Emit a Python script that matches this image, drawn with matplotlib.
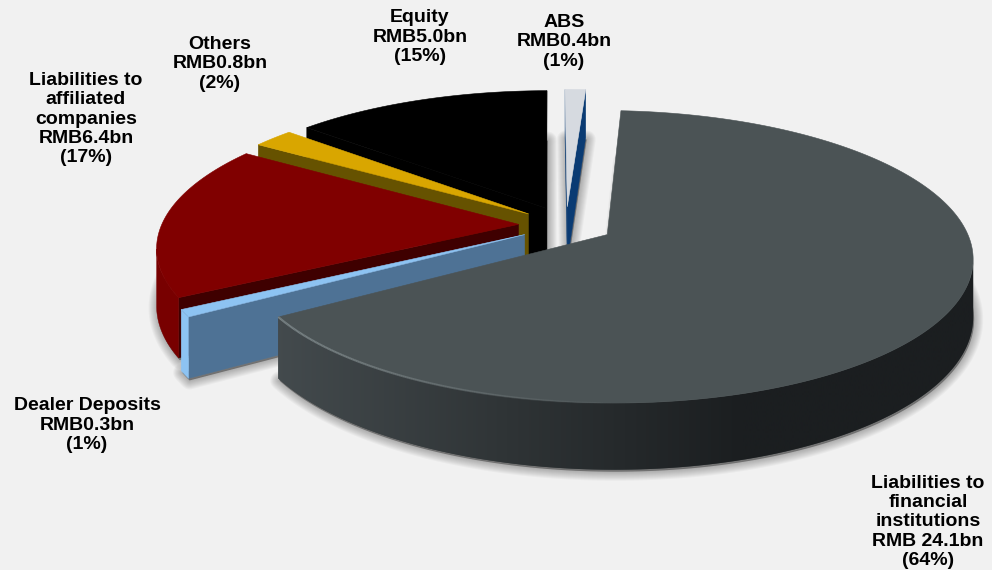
import numpy as np
import matplotlib
matplotlib.use("Agg")
import matplotlib.pyplot as plt
from matplotlib.patches import Polygon
from matplotlib.collections import LineCollection
from matplotlib.colors import LinearSegmentedColormap

# Funding structure, RMB bn, clockwise from the top
categories = ["Liabilities to\nfinancial\ninstitutions", "Dealer Deposits",
              "Liabilities to\naffiliated\ncompanies", "Others", "Equity", "ABS"]
amounts = [24.1, 0.3, 6.4, 0.8, 5.0, 0.4]
amount_text = ["RMB 24.1bn", "RMB0.3bn", "RMB6.4bn", "RMB0.8bn", "RMB5.0bn", "RMB0.4bn"]
percents = [64, 1, 17, 2, 15, 1]

top_colors = ["#4b5355", "#8dc3f2", "#800000", "#d9a600", "#000000", "#d6dae0"]
cut_colors = ["#3c4244", "#4e7295", "#3f0000", "#665200", "#000000", "#0a3b73"]
rim_colors = ["#3c4244", "#8dc3f2", "#780000", "#665200", "#000000", "#d6dae0"]

label_pos = [(928, 522), (87, 425), (86, 119), (220, 64), (420, 37), (564, 42)]

# Pie geometry in figure pixels
CX, CY = 566.0, 225.0
RX, RY = 357.0, 140.0
PERSP = 0.15
DEPTH = 56.0
EXPLODE = 0.133
START_DEG = 3.5


def project(x, y, z=0.0):
    s = 1.0 / (1.0 - PERSP * y)
    return CX + RX * x * s, CY + RY * y * s + DEPTH * z * s


def slice_outline(t0, t1):
    mid = np.radians((t0 + t1) / 2)
    ox, oy = EXPLODE * np.sin(mid), -EXPLODE * np.cos(mid)
    th = np.radians(np.linspace(t0, t1, max(int(t1 - t0) * 3, 12)))
    return ox, oy, ox + np.sin(th), oy - np.cos(th)


def pts(x, y, z=0.0):
    return np.column_stack(project(np.asarray(x), np.asarray(y), z))


def faces_viewer(quad):
    x, y = quad[:, 0], quad[:, 1]
    return np.sum(x * np.roll(y, -1) - np.roll(x, -1) * y) < 0


fig = plt.figure(figsize=(9.92, 5.70), dpi=100, facecolor="#f1f1f1")
ax = fig.add_axes([0, 0, 1, 1])
ax.axis("off")

fractions = np.array(amounts) / sum(amounts)
edges = START_DEG + np.concatenate([[0], np.cumsum(fractions)]) * 360
order = [5, 4, 3, 2, 1, 0]

# Soft shadows cast by the underside of each slice
for i in order:
    ox, oy, rx_, ry_ = slice_outline(edges[i], edges[i + 1])
    base = pts(np.r_[ox, rx_], np.r_[oy, ry_], 1.0) + np.array([1.0, 2.0])
    ax.add_patch(Polygon(base, closed=True, facecolor="#9a9a9a", edgecolor="none", zorder=1))
    for lw in np.linspace(13, 1.5, 9):
        ax.add_patch(Polygon(base, closed=True, fill=False, edgecolor="black", lw=lw,
                             alpha=0.03, joinstyle="round", zorder=1))

rim_shade = LinearSegmentedColormap.from_list("rim", ["#444b4e", "#2f3436", "#1b1e20", "#1b1e20"])

for rank, i in enumerate(order):
    z = 10 + rank * 5
    ox, oy, rx_, ry_ = slice_outline(edges[i], edges[i + 1])
    up = pts(rx_, ry_, 0.0)
    dn = pts(rx_, ry_, 1.0)

    # Radial cut faces, walked in outline order so only the visible ones are filled
    apex_up, apex_dn = pts([ox], [oy], 0.0)[0], pts([ox], [oy], 1.0)[0]
    for a_up, a_dn, b_up, b_dn in ((apex_up, apex_dn, up[0], dn[0]), (up[-1], dn[-1], apex_up, apex_dn)):
        face = np.vstack([a_up, b_up, b_dn, a_dn])
        if faces_viewer(face):
            ax.add_patch(Polygon(face, closed=True, facecolor=cut_colors[i],
                                 edgecolor=cut_colors[i], lw=0.3, zorder=z))

    # Outer rim: only the stretch turned towards the viewer
    keep = np.array([faces_viewer(np.vstack([up[j], up[j + 1], dn[j + 1], dn[j]])) for j in range(len(up) - 1)])
    if keep.any():
        idx = np.flatnonzero(keep)
        j0, j1 = idx[0], idx[-1] + 1
        rim = np.vstack([up[j0:j1 + 1], dn[j0:j1 + 1][::-1]])
        patch = Polygon(rim, closed=True, zorder=z + 1, facecolor=rim_colors[i], edgecolor="none" if i == 0 else rim_colors[i], lw=0.3)
        ax.add_patch(patch)
        if i == 0:
            # The large slice shades from left to right
            im = ax.imshow(np.linspace(0, 1, 256)[None, :], cmap=rim_shade, aspect="auto",
                           extent=(270, 980, 570, 0), zorder=z + 1.5, interpolation="bilinear")
            im.set_clip_path(patch)

    # Top surface
    top = pts(np.r_[ox, rx_], np.r_[oy, ry_], 0.0)
    ax.add_patch(Polygon(top, closed=True, facecolor=top_colors[i], edgecolor=top_colors[i],
                         lw=0.4, zorder=z + 2))

    # Lit front edge of the large slice, fading towards the right
    if i == 0:
        segs = [up[j:j + 2] for j in range(len(up) - 1)]
        fade = np.clip((up[:-1, 0] - 290) / 330, 0, 1)
        lc = [(0.50, 0.54, 0.55, 0.85 * (1 - v)) for v in fade]
        ax.add_collection(LineCollection(segs, colors=lc, linewidths=1.5, zorder=z + 3))

ax.set_xlim(0, 992)
ax.set_ylim(570, 0)

# Labels
for name, amt, pct, (lx, ly) in zip(categories, amount_text, percents, label_pos):
    ax.text(lx, ly, f"{name}\n{amt}\n({pct}%)", ha="center", va="center", ma="center",
            family="Liberation Sans", weight="bold", fontsize=14, linespacing=1.18,
            color="black", zorder=60)

fig.savefig("out.png", dpi=100, facecolor=fig.get_facecolor())
